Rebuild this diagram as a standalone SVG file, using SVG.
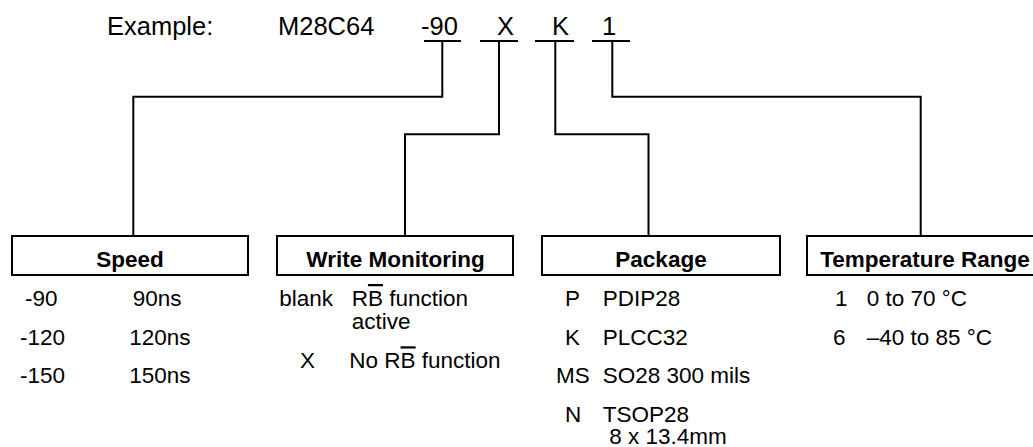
<svg xmlns="http://www.w3.org/2000/svg" width="1033" height="447" viewBox="0 0 1033 447">
<style>
.t{font-family:"Liberation Sans",Arial,sans-serif;font-size:22.5px;fill:#000}
.top{font-family:"Liberation Sans",Arial,sans-serif;font-size:25.5px;fill:#000}
.h{font-family:"Liberation Sans",Arial,sans-serif;font-size:22.5px;font-weight:bold;fill:#000;text-anchor:middle}
.box{fill:#fff;stroke:#000;stroke-width:2}
.ln{fill:none;stroke:#000;stroke-width:2}
</style>
<rect width="1033" height="447" fill="#fff"/>
<g id="example">
<text class="top" x="107" y="35">Example:</text>
<text class="top" x="278" y="35">M28C64</text>
<text class="top" x="421" y="35">-90</text>
<text class="top" x="497" y="35">X</text>
<text class="top" x="552" y="35">K</text>
<text class="top" x="602" y="35">1</text>
</g>
<g id="connectors">
<path class="ln" d="M424 41H461M480 41H518M535 41H574M592 41H630"/>
<path class="ln" d="M442.3 41V96.7H133.3V236"/>
<path class="ln" d="M499 41V134.3H405V236"/>
<path class="ln" d="M555.3 41V134.3H648.5V236"/>
<path class="ln" d="M612.3 41V96.7H920.7V236"/>
</g>
<g id="speed">
<rect class="box" x="12" y="236" width="236" height="39"/>
<text class="h" x="130" y="266.5">Speed</text>
<text class="t" x="25" y="306">-90</text>
<text class="t" x="132.7" y="306">90ns</text>
<text class="t" x="20" y="345">-120</text>
<text class="t" x="129.3" y="345">120ns</text>
<text class="t" x="20" y="383.3">-150</text>
<text class="t" x="129.3" y="383.3">150ns</text>
</g>
<g id="write-monitoring">
<rect class="box" x="277" y="236" width="236" height="39"/>
<text class="h" x="395.5" y="266.5">Write Monitoring</text>
<text class="t" x="279.3" y="306">blank</text>
<text class="t" x="351.7" y="306">R<tspan text-decoration="overline">B</tspan> function</text>
<text class="t" x="351.7" y="329.3">active</text>
<text class="t" x="300" y="368.3">X</text>
<text class="t" x="349.3" y="368.3">No R<tspan text-decoration="overline">B</tspan> function</text>
</g>
<g id="package">
<rect class="box" x="542" y="236" width="238" height="39"/>
<text class="h" x="661" y="266.5">Package</text>
<text class="t" x="565" y="306">P</text>
<text class="t" x="602.7" y="306">PDIP28</text>
<text class="t" x="565" y="345">K</text>
<text class="t" x="602.7" y="345">PLCC32</text>
<text class="t" x="556" y="383.3">MS</text>
<text class="t" x="602.7" y="383.3">SO28 300 mils</text>
<text class="t" x="565" y="421.7">N</text>
<text class="t" x="602.7" y="421.7">TSOP28</text>
<text class="t" x="609.3" y="443.5">8 x 13.4mm</text>
</g>
<g id="temperature-range">
<rect class="box" x="807" y="236" width="238" height="39"/>
<text class="h" x="925" y="266.5">Temperature Range</text>
<text class="t" x="835" y="306">1</text>
<text class="t" x="866.7" y="306">0 to 70 °C</text>
<text class="t" x="833" y="345">6</text>
<text class="t" x="866.7" y="345">–40 to 85 °C</text>
</g>
</svg>
